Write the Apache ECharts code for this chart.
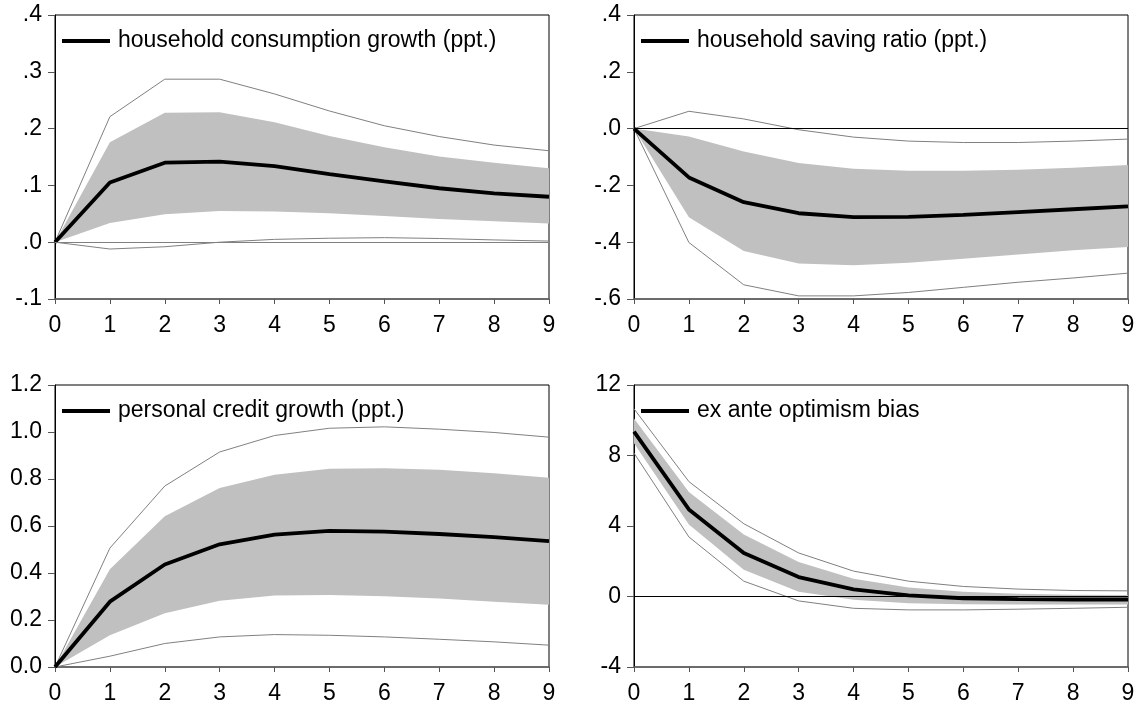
<!DOCTYPE html>
<html>
<head>
<meta charset="utf-8">
<script src="https://cdn.jsdelivr.net/npm/echarts@6/dist/echarts.min.js"></script>
<style>html,body{margin:0;padding:0;background:#fff}#c{width:1142px;height:708px}</style>
</head>
<body>
<div id="c"></div>
<script>
// ---- Data ----
const horizons = ['0','1','2','3','4','5','6','7','8','9'];

// Panel 1: household consumption growth (ppt.)
const consMean  = [0, 0.105, 0.140, 0.142, 0.134, 0.120, 0.107, 0.095, 0.086, 0.080];
const consBandU = [0, 0.176, 0.228, 0.229, 0.211, 0.187, 0.167, 0.151, 0.140, 0.130];
const consBandL = [0, 0.034, 0.049, 0.055, 0.054, 0.051, 0.046, 0.041, 0.037, 0.033];
const consOutU  = [0, 0.221, 0.287, 0.287, 0.261, 0.231, 0.205, 0.186, 0.171, 0.161];
const consOutL  = [0, -0.012, -0.008, 0.000, 0.005, 0.007, 0.008, 0.0065, 0.004, 0.002];

// Panel 2: household saving ratio (ppt.)
const saveMean  = [0, -0.172, -0.259, -0.298, -0.312, -0.311, -0.304, -0.294, -0.284, -0.274];
const saveBandU = [0, -0.028, -0.081, -0.121, -0.141, -0.148, -0.148, -0.145, -0.138, -0.128];
const saveBandL = [0, -0.312, -0.431, -0.475, -0.481, -0.472, -0.458, -0.443, -0.428, -0.417];
const saveOutU  = [0, 0.061, 0.034, -0.004, -0.030, -0.044, -0.049, -0.049, -0.044, -0.037];
const saveOutL  = [0, -0.401, -0.550, -0.589, -0.589, -0.577, -0.559, -0.541, -0.526, -0.509];

// Panel 3: personal credit growth (ppt.)
const credMean  = [0, 0.278, 0.436, 0.522, 0.563, 0.579, 0.576, 0.566, 0.553, 0.536];
const credBandU = [0, 0.416, 0.641, 0.762, 0.818, 0.844, 0.846, 0.839, 0.824, 0.805];
const credBandL = [0, 0.135, 0.229, 0.282, 0.304, 0.306, 0.301, 0.291, 0.278, 0.265];
const credOutU  = [0, 0.506, 0.770, 0.915, 0.985, 1.016, 1.022, 1.012, 0.998, 0.978];
const credOutL  = [0, 0.046, 0.100, 0.128, 0.138, 0.135, 0.128, 0.118, 0.107, 0.093];

// Panel 4: ex ante optimism bias
const optMean  = [9.35, 4.94, 2.47, 1.10, 0.40, 0.06, -0.10, -0.15, -0.17, -0.17];
const optBandU = [10.1, 5.93, 3.52, 1.96, 1.01, 0.51, 0.27, 0.15, 0.10, 0.08];
const optBandL = [8.7, 4.09, 1.52, 0.27, -0.19, -0.38, -0.44, -0.46, -0.46, -0.45];
const optOutU  = [10.65, 6.52, 4.13, 2.47, 1.44, 0.87, 0.57, 0.42, 0.34, 0.32];
const optOutL  = [8.14, 3.38, 0.87, -0.25, -0.67, -0.76, -0.76, -0.72, -0.67, -0.61];

// Tick labels (y)
const yTicks1 = ['-.1','.0','.1','.2','.3','.4'];
const yTicks2 = ['-.6','-.4','-.2','.0','.2','.4'];
const yTicks3 = ['0.0','0.2','0.4','0.6','0.8','1.0','1.2'];
const yTicks4 = ['-4','0','4','8','12'];

const titles = ['household consumption growth (ppt.)','household saving ratio (ppt.)','personal credit growth (ppt.)','ex ante optimism bias'];

// ---- Build ----
const panels = [
  {mean:consMean,bu:consBandU,bl:consBandL,ou:consOutU,ol:consOutL,ticks:yTicks1,min:-0.1,max:0.4,interval:0.1,zero:'#808080'},
  {mean:saveMean,bu:saveBandU,bl:saveBandL,ou:saveOutU,ol:saveOutL,ticks:yTicks2,min:-0.6,max:0.4,interval:0.2,zero:'#000'},
  {mean:credMean,bu:credBandU,bl:credBandL,ou:credOutU,ol:credOutL,ticks:yTicks3,min:0,max:1.2,interval:0.2,zero:null},
  {mean:optMean,bu:optBandU,bl:optBandL,ou:optOutU,ol:optOutL,ticks:yTicks4,min:-4,max:12,interval:4,zero:'#000'}
];
const gridPos = [
  {left:55,top:15,width:494,height:284},
  {left:634,top:15,width:494,height:284},
  {left:55,top:385,width:494,height:282},
  {left:634,top:385,width:494,height:282}
];
const FONT = 'Liberation Sans, Arial, sans-serif';

const grid=[], xAxis=[], yAxis=[], series=[], legend=[];
panels.forEach((p,i)=>{
  grid.push(Object.assign({show:true,borderColor:'#000',borderWidth:1,backgroundColor:'transparent'},gridPos[i]));
  xAxis.push({type:'category',gridIndex:i,data:horizons,boundaryGap:false,
    axisLine:{show:true,onZero:false,lineStyle:{color:'#666',width:1.5}},
    axisTick:{show:true,length:5,alignWithLabel:true,lineStyle:{color:'#555'}},
    axisLabel:{color:'#000',fontSize:23,fontFamily:FONT,margin:15,interval:0},
    splitLine:{show:false}});
  yAxis.push({type:'value',gridIndex:i,min:p.min,max:p.max,interval:p.interval,
    axisLine:{show:true,onZero:false,lineStyle:{color:'#000',width:1}},
    axisTick:{show:true,length:7,lineStyle:{color:'#555'}},
    axisLabel:{color:'#000',fontSize:23,fontFamily:FONT,margin:13,
      formatter:v=>p.ticks[Math.round((v-p.min)/p.interval)]},
    splitLine:{show:false}});
  // band: base + width, stacked
  series.push({name:'bandBase'+i,type:'line',xAxisIndex:i,yAxisIndex:i,stack:'band'+i,stackStrategy:'all',
    data:p.bl,symbol:'none',lineStyle:{opacity:0},silent:true,z:1});
  series.push({name:'bandTop'+i,type:'line',xAxisIndex:i,yAxisIndex:i,stack:'band'+i,stackStrategy:'all',
    data:p.bu.map((u,k)=>u-p.bl[k]),symbol:'none',lineStyle:{opacity:0},
    areaStyle:{color:'#c0c0c0',opacity:1},silent:true,z:1});
  const zeroMark = p.zero ? {silent:true,symbol:'none',label:{show:false},
    lineStyle:{color:p.zero,width:1,type:'solid'},data:[{yAxis:0}]} : undefined;
  series.push({name:'upper'+i,type:'line',xAxisIndex:i,yAxisIndex:i,data:p.ou,symbol:'none',
    lineStyle:{color:'#808080',width:1},silent:true,z:2,markLine:zeroMark});
  series.push({name:'lower'+i,type:'line',xAxisIndex:i,yAxisIndex:i,data:p.ol,symbol:'none',
    lineStyle:{color:'#808080',width:1},silent:true,z:2});
  series.push({name:titles[i],type:'line',xAxisIndex:i,yAxisIndex:i,data:p.mean,symbol:'none',
    lineStyle:{color:'#000',width:3.8},itemStyle:{color:'#000'},z:3});
  legend.push({data:[titles[i]],left:gridPos[i].left+7,top:gridPos[i].top+13,padding:0,
    icon:'rect',itemWidth:48,itemHeight:4,itemGap:0,
    textStyle:{color:'#000',fontSize:23,lineHeight:26,fontFamily:FONT,padding:[0,0,0,3]},
    selectedMode:false});
});

const chart = echarts.init(document.getElementById('c'),null,{renderer:'canvas'});
chart.setOption({animation:false,backgroundColor:'#fff',grid,xAxis,yAxis,series,legend});
</script>
</body>
</html>
